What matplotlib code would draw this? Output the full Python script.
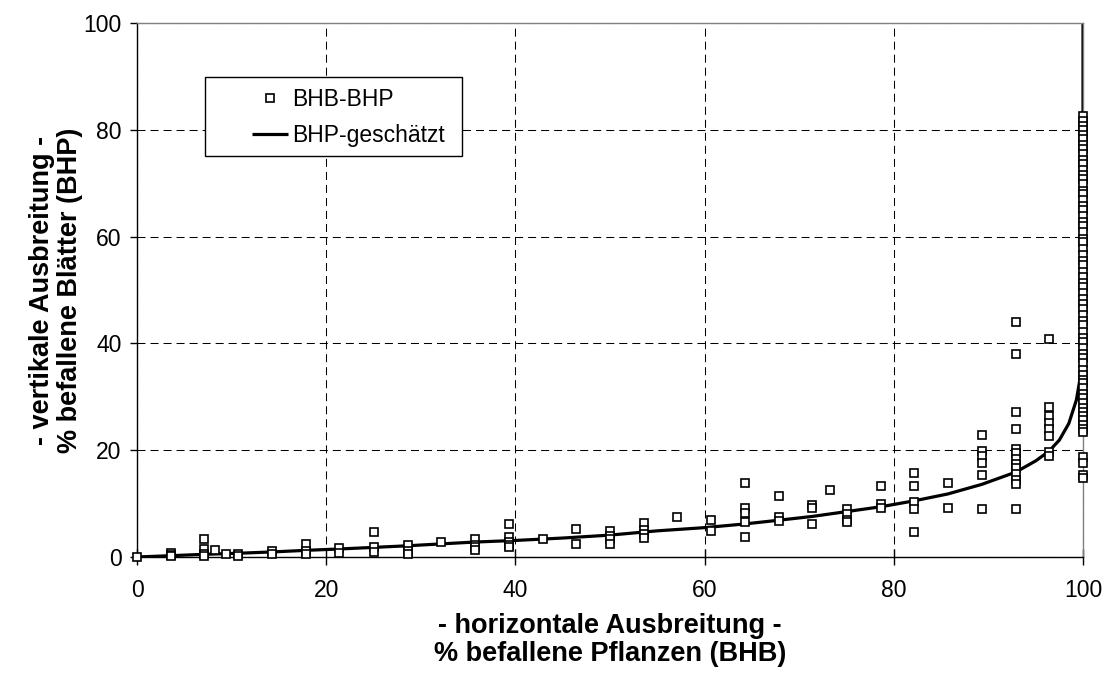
import matplotlib
matplotlib.use("Agg")
import matplotlib.pyplot as plt
from matplotlib.patches import Rectangle

plt.rcParams['font.family'] = ['Liberation Sans', 'DejaVu Sans']

# BHB-BHP: beobachtete Wertepaare (x = % befallene Pflanzen, y = % befallene Blaetter)
bhb = ([0.0]
       + [3.6] * 3 + [7.1] * 4 + [8.2, 9.4] + [10.7] * 2 + [14.3] * 2
       + [17.9] * 3 + [21.4] * 2 + [25.0] * 3 + [28.6] * 3 + [32.1]
       + [35.7] * 4 + [39.3] * 5 + [42.9] + [46.4] * 2 + [50.0] * 4
       + [53.6] * 4 + [57.1] + [60.7] * 2 + [64.3] * 5 + [67.9] * 3
       + [71.4] * 3 + [73.3] + [75.0] * 4 + [78.6] * 3 + [82.1] * 5
       + [85.7] * 2 + [89.3] * 6 + [92.9] * 13 + [96.4] * 8)
bhp = [0.0,
       0.75, 0.3, 0.1,
       3.4, 1.5, 0.6, 0.25,
       1.4, 0.6,
       0.5, 0.25,
       1.1, 0.6,
       2.5, 1.1, 0.5,
       1.6, 0.75,
       4.6, 1.9, 0.9,
       2.2, 1.1, 0.6,
       2.9,
       3.4, 2.2, 1.8, 1.4,
       6.1, 3.8, 2.9, 2.2, 1.8,
       3.3,
       5.3, 2.4,
       4.9, 3.9, 3.4, 2.4,
       6.4, 5.0, 4.4, 3.5,
       7.4,
       6.9, 4.9,
       13.8, 9.2, 8.2, 6.6, 3.7,
       11.4, 7.5, 6.8,
       9.8, 9.25, 6.1,
       12.5,
       8.9, 8.1, 7.0, 6.6,
       13.3, 9.9, 9.1,
       15.8, 13.25, 10.3, 8.9, 4.6,
       13.9, 9.1,
       22.9, 19.9, 18.9, 17.6, 15.3, 8.9,
       44.1, 38.1, 27.2, 23.9, 20.3, 19.4, 18.4, 17.4, 16.6, 15.5, 14.5, 13.6, 8.9,
       40.8, 28.1, 26.4, 25.1, 23.9, 22.6, 19.7, 18.9]

# Spalte bei 100 % befallenen Pflanzen
bhp_100 = [82.5, 81.6, 80.8, 80.0, 79.1, 78.3, 77.2, 76.4, 75.5, 74.3, 73.6,
           72.4, 71.5, 70.7, 69.8, 68.6, 67.9, 66.8, 65.7, 65.0, 63.9, 62.8,
           61.9, 60.8, 59.6, 58.9, 57.7, 56.5, 55.4, 54.6, 53.3, 52.5, 51.4,
           50.6, 49.5, 48.3, 47.4, 46.5, 45.3, 44.2, 43.4, 42.1, 41.0, 40.2,
           39.1, 38.0, 37.2, 36.3, 35.1, 34.0, 33.2, 32.5, 31.6, 30.5, 29.7,
           28.8, 27.9, 27.2, 26.4, 25.6, 24.8, 24.0, 23.5,
           18.8, 17.6, 15.3, 14.8]
bhb = bhb + [100.0] * len(bhp_100)
bhp = bhp + bhp_100

# BHP-geschaetzt (Kurve)
kurve_x = [0, 3.6, 7.1, 10.7, 14.3, 17.9, 21.4, 25, 28.6, 32.1, 35.7, 40, 45,
           50, 55, 60, 64.3, 67.9, 71.4, 75, 78.6, 82.1, 85.7, 89.3, 92.9, 95,
           96.4, 97.5, 98.5, 99.3, 99.7, 99.9, 100, 100]
kurve_y = [0, 0.25, 0.5, 0.7, 0.95, 1.25, 1.5, 1.8, 2.1, 2.45, 2.8, 3.1, 3.55,
           4.1, 4.9, 5.5, 6.2, 6.9, 7.6, 8.5, 9.4, 10.5, 11.8, 13.6, 15.9, 18.0,
           19.8, 21.9, 25.0, 29.4, 33.5, 36.5, 42, 100]

ticks = [0, 20, 40, 60, 80, 100]

W, H = 1105, 682
fig = plt.figure(figsize=(W / 100, H / 100), dpi=100)
ax = fig.add_axes([137 / W, 1 - 557 / H, (1083 - 137) / W, (557 - 23) / H])

ax.plot(kurve_x, kurve_y, color='black', lw=2.3, zorder=2,
        solid_capstyle='butt', label='BHP-geschätzt')
ax.plot(bhb, bhp, linestyle='none', marker='s', markersize=5.2,
        markerfacecolor='white', markeredgecolor='black', markeredgewidth=1.2,
        zorder=3, label='BHB-BHP', clip_on=False)

ax.set_xlim(0, 100)
ax.set_ylim(0, 100)
ax.set_xticks(ticks)
ax.set_yticks(ticks)
ax.grid(True, color='black', lw=0.75, linestyle=(0, (7.7, 4.8)))
ax.set_axisbelow(True)

for s in ['top', 'right']:
    ax.spines[s].set_color('#808080')
    ax.spines[s].set_linewidth(1.0)
for s in ['left', 'bottom']:
    ax.spines[s].set_color('black')
    ax.spines[s].set_linewidth(1.0)

ax.tick_params(axis='x', direction='inout', length=12, width=1, labelsize=16.5, pad=10)
ax.tick_params(axis='y', direction='out', length=5, width=1, labelsize=16.5, pad=6)

ax.set_xlabel('- horizontale Ausbreitung -\n% befallene Pflanzen (BHB)',
              fontsize=19.5, fontweight='bold', linespacing=1.1)
ax.xaxis.set_label_coords(0.5, -(613 - 557) / 534)
ax.set_ylabel('- vertikale Ausbreitung -\n% befallene Blätter (BHP)',
              fontsize=19.5, fontweight='bold', linespacing=1.1)
ax.yaxis.set_label_coords(-(137 - 83) / 946, 0.5)

# Legendenrahmen wie im Original (breiter linker Rand)
fig.add_artist(Rectangle((205 / W, 1 - 156 / H), (462 - 205) / W, (156 - 77) / H,
                         transform=fig.transFigure, facecolor='white',
                         edgecolor='black', lw=1.0, zorder=4))
handles, labels = ax.get_legend_handles_labels()
leg = fig.legend(handles[::-1], labels[::-1], loc='upper left',
                 bbox_to_anchor=(252 / W, 1 - 88 / H), borderaxespad=0,
                 borderpad=0, fontsize=16.5, frameon=False,
                 handlelength=1.57, handletextpad=0.17, labelspacing=0.55)
leg.set_zorder(5)

fig.savefig('out.png', dpi=100)
